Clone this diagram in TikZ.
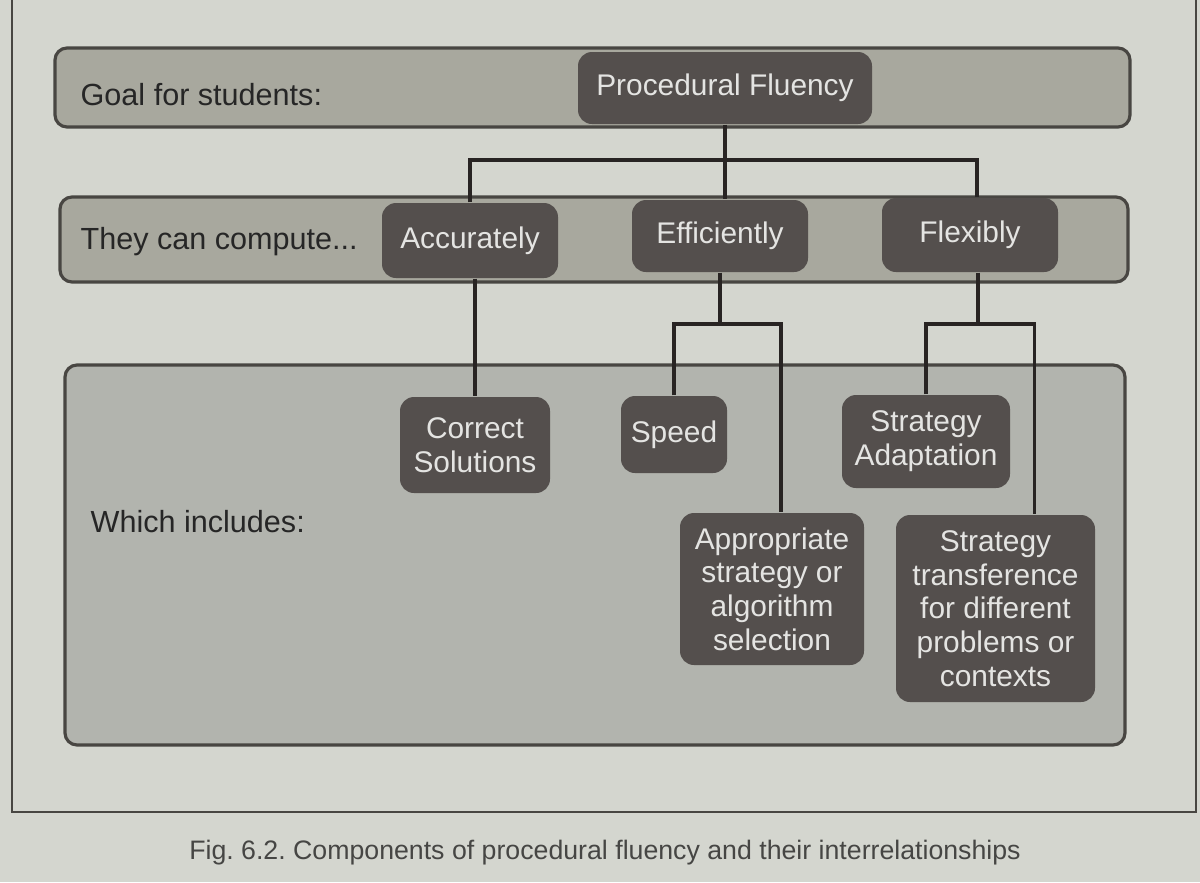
\documentclass[tikz,border=0pt]{standalone}
\usepackage{fontspec}
\setmainfont{Liberation Sans}
\usepackage{tikz}
\usetikzlibrary{positioning, calc}
\definecolor{pageGray}{RGB}{212,214,207}
\definecolor{bandGray}{RGB}{168,168,158}
\definecolor{panelGray}{RGB}{178,180,174}
\definecolor{boxDark}{RGB}{84,79,77}
\definecolor{boxText}{RGB}{228,228,226}
\definecolor{edgeGray}{RGB}{72,70,66}
\definecolor{linkDark}{RGB}{40,36,35}
\definecolor{capGray}{RGB}{70,70,68}
\frenchspacing

\begin{document}
\begin{tikzpicture}[
    band/.style={rectangle, draw=edgeGray, line width=0.9pt, fill=bandGray,
        rounded corners=1.2mm, inner sep=0pt},
    panel/.style={band, fill=panelGray},
    item/.style={rectangle, fill=boxDark, text=boxText, align=center,
        rounded corners=1.4mm, inner sep=0pt,
        font=\fontsize{8.5}{9.6}\selectfont},
    lbl/.style={anchor=west, inner sep=0pt, text=black!85, font=\fontsize{8.7}{10}\selectfont},
    link/.style={draw=linkDark, line width=0.9pt},
    frame/.style={draw=edgeGray, line width=0.6pt}
]
\useasboundingbox (0,0) rectangle (12,8.82);
\fill[pageGray] (0,0) rectangle (12,8.82);
\draw[frame] (0.12,8.82) -- (0.12,0.70) -- (11.96,0.70) -- (11.96,8.82);

\node[band, minimum width=10.75cm, minimum height=0.79cm] (goalband) at (5.925,7.945) {};
\node[band, minimum width=10.68cm, minimum height=0.85cm] (computeband) at (5.94,6.425) {};
\node[panel, minimum width=10.60cm, minimum height=3.80cm] (includeband) at (5.95,3.27) {};

\node[lbl] (goallbl) at (0.80,7.87) {Goal for students:};
\node[lbl] (computelbl) at (0.80,6.40) {They can compute...};
\node[lbl] (includelbl) at (0.90,3.60) {Which includes:};

\node[item, minimum width=2.94cm, minimum height=0.72cm] (pf) at (7.25,7.94) {Procedural Fluency};
\node[item, minimum width=1.76cm, minimum height=0.75cm] (acc) at (4.70,6.415) {Accurately};
\node[item, minimum width=1.76cm, minimum height=0.72cm] (eff) at (7.20,6.46) {Efficiently};
\node[item, minimum width=1.76cm, minimum height=0.74cm] (flex) at (9.70,6.47) {Flexibly};

\node[item, minimum width=1.50cm, minimum height=0.96cm] (corr) at (4.75,4.37) {Correct\\Solutions};
\node[item, minimum width=1.06cm, minimum height=0.77cm] (speed) at (6.74,4.475) {Speed};
\node[item, minimum width=1.68cm, minimum height=0.93cm] (strad) at (9.26,4.405) {Strategy\\Adaptation};
\node[item, minimum width=1.84cm, minimum height=1.52cm] (appr) at (7.72,2.93)
    {Appropriate\\strategy or\\algorithm\\selection};
\node[item, minimum width=1.99cm, minimum height=1.87cm] (strtr) at (9.955,2.735)
    {Strategy\\transference\\for different\\problems or\\contexts};

\coordinate (split1) at (0,7.22);
\coordinate (split2) at (0,5.58);
\draw[link] (pf.south) -- (pf.south |- eff.north);
\draw[link] (acc.north) -- (acc.north |- split1) -| ([xshift=0.07cm]flex.north);
\draw[link] (corr.north |- acc.south) -- (corr.north);
\draw[link] (eff.south) -- (eff.south |- split2);
\draw[link] (speed.north) -- (speed.north |- split2) -| ([xshift=0.09cm]appr.north);
\draw[link] ([xshift=0.08cm]flex.south) -- ([xshift=0.08cm]flex.south |- split2);
\draw[link] (strad.north) -- (strad.north |- split2) -| ([xshift=0.39cm]strtr.north);

\node[text=capGray, font=\fontsize{7.6}{9}\selectfont] (caption) at (6.05,0.29)
    {Fig. 6.2. Components of procedural fluency and their interrelationships};
\end{tikzpicture}
\end{document}
